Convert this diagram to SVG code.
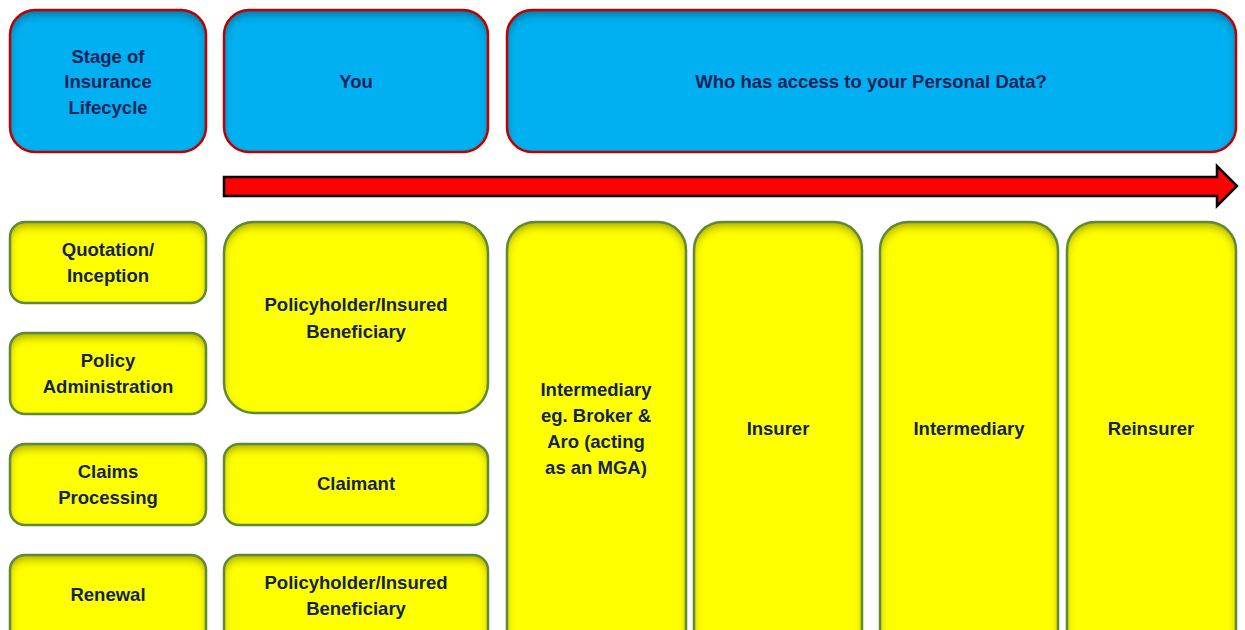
<svg xmlns="http://www.w3.org/2000/svg" width="1245" height="630" viewBox="0 0 1245 630">
<style>
.blue{fill:#00B0F0}
.blueS{fill:none;stroke:#C00000;stroke-width:2.5}
.yel{fill:#FFFF00}
.yelS{fill:none;stroke:#5F8A35;stroke-width:2.5}
text{font-family:"Liberation Sans",Arial,sans-serif;font-weight:bold;font-size:18.5px;fill:#13235A;text-anchor:middle}
</style>
<defs>
<filter id="inner" x="-5%" y="-5%" width="110%" height="110%">
<feGaussianBlur in="SourceAlpha" stdDeviation="4" result="b"/>
<feOffset in="b" dy="5" result="o"/>
<feComposite in="SourceAlpha" in2="o" operator="arithmetic" k2="1" k3="-1" result="d"/>
<feFlood flood-color="#000" flood-opacity="0.6"/>
<feComposite in2="d" operator="in" result="s"/>
<feMerge><feMergeNode in="SourceGraphic"/><feMergeNode in="s"/></feMerge>
</filter>
</defs>
<g id="stage"><rect class="blue" filter="url(#inner)" x="10" y="10" width="196" height="142" rx="25"/><rect class="blueS" x="10" y="10" width="196" height="142" rx="25"/>
<text x="108" y="63">Stage of</text><text x="108" y="88">Insurance</text><text x="108" y="114">Lifecycle</text></g>
<g id="you"><rect class="blue" filter="url(#inner)" x="224" y="10" width="264" height="142" rx="25"/><rect class="blueS" x="224" y="10" width="264" height="142" rx="25"/>
<text x="356" y="88">You</text></g>
<g id="who"><rect class="blue" filter="url(#inner)" x="507" y="10" width="729" height="142" rx="25"/><rect class="blueS" x="507" y="10" width="729" height="142" rx="25"/>
<text x="871" y="88">Who has access to your Personal Data?</text></g>
<g id="connectors"><path d="M224,177 L1217,177 L1217,166 L1237,186 L1217,206 L1217,196 L224,196 Z" fill="#FF0000" stroke="#000" stroke-width="2.5" stroke-linejoin="miter"/></g>
<g id="quotation"><rect class="yel" filter="url(#inner)" x="10" y="222" width="196" height="81" rx="15"/><rect class="yelS" x="10" y="222" width="196" height="81" rx="15"/>
<text x="108" y="256">Quotation/</text><text x="108" y="282">Inception</text></g>
<g id="admin"><rect class="yel" filter="url(#inner)" x="10" y="333" width="196" height="81" rx="15"/><rect class="yelS" x="10" y="333" width="196" height="81" rx="15"/>
<text x="108" y="367">Policy</text><text x="108" y="393">Administration</text></g>
<g id="claims"><rect class="yel" filter="url(#inner)" x="10" y="444" width="196" height="81" rx="15"/><rect class="yelS" x="10" y="444" width="196" height="81" rx="15"/>
<text x="108" y="478">Claims</text><text x="108" y="504">Processing</text></g>
<g id="renewal"><rect class="yel" filter="url(#inner)" x="10" y="555" width="196" height="100" rx="15"/><rect class="yelS" x="10" y="555" width="196" height="100" rx="15"/>
<text x="108" y="601">Renewal</text></g>
<g id="policyholder1"><rect class="yel" filter="url(#inner)" x="224" y="222" width="264" height="191" rx="30"/><rect class="yelS" x="224" y="222" width="264" height="191" rx="30"/>
<text x="356" y="311">Policyholder/Insured</text><text x="356" y="338">Beneficiary</text></g>
<g id="claimant"><rect class="yel" filter="url(#inner)" x="224" y="444" width="264" height="81" rx="15"/><rect class="yelS" x="224" y="444" width="264" height="81" rx="15"/>
<text x="356" y="490">Claimant</text></g>
<g id="policyholder2"><rect class="yel" filter="url(#inner)" x="224" y="555" width="264" height="100" rx="15"/><rect class="yelS" x="224" y="555" width="264" height="100" rx="15"/>
<text x="356" y="589">Policyholder/Insured</text><text x="356" y="615">Beneficiary</text></g>
<g id="intermediary1"><rect class="yel" filter="url(#inner)" x="507" y="222" width="179" height="440" rx="28"/><rect class="yelS" x="507" y="222" width="179" height="440" rx="28"/>
<text x="596" y="396">Intermediary</text><text x="596" y="422">eg. Broker &amp;</text><text x="596" y="448">Aro (acting</text><text x="596" y="474">as an MGA)</text></g>
<g id="insurer"><rect class="yel" filter="url(#inner)" x="694" y="222" width="168" height="440" rx="28"/><rect class="yelS" x="694" y="222" width="168" height="440" rx="28"/>
<text x="778" y="435">Insurer</text></g>
<g id="intermediary2"><rect class="yel" filter="url(#inner)" x="880" y="222" width="178" height="440" rx="28"/><rect class="yelS" x="880" y="222" width="178" height="440" rx="28"/>
<text x="969" y="435">Intermediary</text></g>
<g id="reinsurer"><rect class="yel" filter="url(#inner)" x="1067" y="222" width="169" height="440" rx="28"/><rect class="yelS" x="1067" y="222" width="169" height="440" rx="28"/>
<text x="1151" y="435">Reinsurer</text></g>
</svg>
